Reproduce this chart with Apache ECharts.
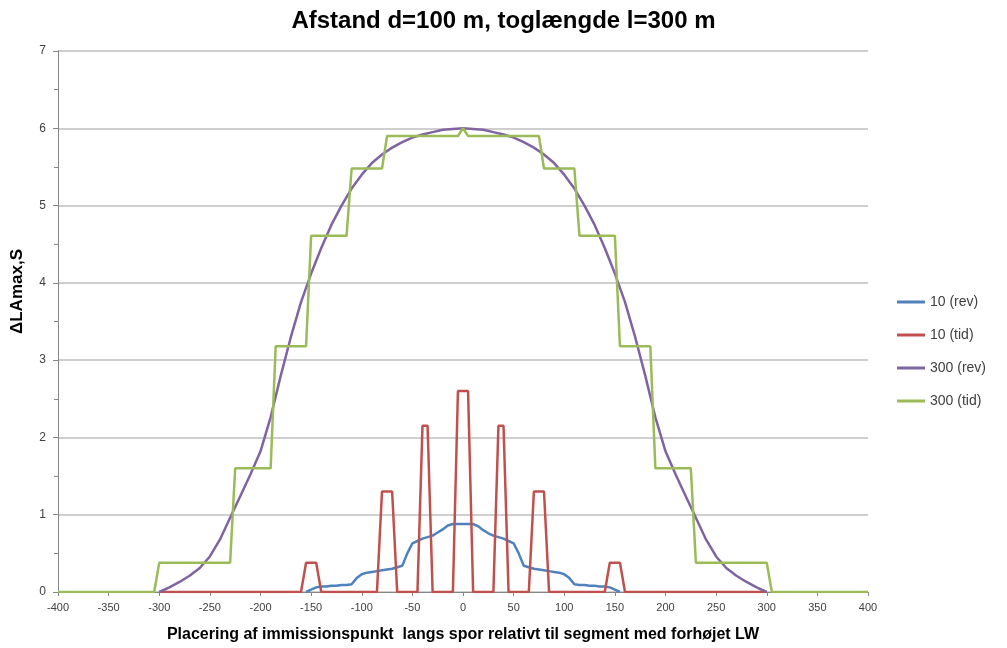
<!DOCTYPE html>
<html>
<head>
<meta charset="utf-8">
<script src="https://cdn.jsdelivr.net/npm/echarts@6/dist/echarts.min.js"></script>
<style>
  html, body { margin: 0; padding: 0; background: #fff; }
  #chart { width: 1007px; height: 648px; }
</style>
</head>
<body>
<div id="chart"></div>
<script>
// x positions (m) and ΔLAmax,S values
const revShortX = [-155, -150, -145, -140, -135, -130, -125, -120, -115, -110, -105, -100, -95, -90, -85, -80, -75, -70, -65, -60, -55, -50, -45, -40, -35, -30, -25, -20, -15, -10, -5, 0,
  5, 10, 15, 20, 25, 30, 35, 40, 45, 50, 55, 60, 65, 70, 75, 80, 85, 90, 95, 100, 105, 110, 115, 120, 125, 130, 135, 140, 145, 150, 155];
const revShortY = [0, 0.03, 0.06, 0.07, 0.07, 0.08, 0.08, 0.09, 0.09, 0.1, 0.18, 0.23, 0.25, 0.26, 0.27, 0.28, 0.29, 0.3, 0.32, 0.34, 0.5, 0.63, 0.66, 0.69, 0.71, 0.73, 0.77, 0.81, 0.86, 0.88, 0.88, 0.88,
  0.88, 0.88, 0.85, 0.8, 0.76, 0.73, 0.71, 0.69, 0.66, 0.63, 0.5, 0.34, 0.32, 0.3, 0.29, 0.28, 0.27, 0.26, 0.25, 0.23, 0.18, 0.1, 0.09, 0.09, 0.08, 0.08, 0.07, 0.07, 0.06, 0.03, 0];

const tidShortX = [-300, -160, -155, -145, -140, -85, -80, -70, -65, -45, -40, -35, -30, -10, -5, 5, 10, 30, 35, 40, 45, 65, 70, 80, 85, 140, 145, 155, 160, 300];
const tidShortY = [0, 0, 0.38, 0.38, 0, 0, 1.3, 1.3, 0, 0, 2.15, 2.15, 0, 0, 2.6, 2.6, 0, 0, 2.15, 2.15, 0, 0, 1.3, 1.3, 0, 0, 0.38, 0.38, 0, 0];

const revLongX = [-300, -290, -280, -270, -260, -250, -240, -230, -220, -210, -200, -190, -180, -170, -160, -150, -140, -130, -120, -110, -100, -90, -80, -70, -60, -50, -40, -30, -20, -10, 0,
  10, 20, 30, 40, 50, 60, 70, 80, 90, 100, 110, 120, 130, 140, 150, 160, 170, 180, 190, 200, 210, 220, 230, 240, 250, 260, 270, 280, 290, 300];
const revLongY = [0, 0.06, 0.13, 0.21, 0.31, 0.46, 0.68, 0.96, 1.24, 1.52, 1.82, 2.26, 2.8, 3.3, 3.75, 4.12, 4.45, 4.75, 5.0, 5.22, 5.4, 5.55, 5.66, 5.75, 5.82, 5.88, 5.92, 5.95, 5.98, 5.99, 6.0,
  5.99, 5.98, 5.95, 5.92, 5.88, 5.82, 5.75, 5.66, 5.55, 5.4, 5.22, 5.0, 4.75, 4.45, 4.12, 3.75, 3.3, 2.8, 2.26, 1.82, 1.52, 1.24, 0.96, 0.68, 0.46, 0.31, 0.21, 0.13, 0.06, 0];

const tidLongX = [-400, -305, -300, -230, -225, -190, -185, -155, -150, -115, -110, -80, -75, -5, 0, 5, 75, 80, 110, 115, 150, 155, 185, 190, 225, 230, 300, 305, 400];
const tidLongY = [0, 0, 0.38, 0.38, 1.6, 1.6, 3.18, 3.18, 4.61, 4.61, 5.48, 5.48, 5.9, 5.9, 6, 5.9, 5.9, 5.48, 5.48, 4.61, 4.61, 3.18, 3.18, 1.6, 1.6, 0.38, 0.38, 0, 0];

const seriesNames = ['10 (rev)', '10 (tid)', '300 (rev)', '300 (tid)'];
const seriesColors = ['#4f81bd', '#c0504d', '#8064a2', '#9bbb59'];

function zip(xs, ys) {
  return xs.map((x, i) => [x, ys[i]]);
}

const allData = [
  zip(revShortX, revShortY),
  zip(tidShortX, tidShortY),
  zip(revLongX, revLongY),
  zip(tidLongX, tidLongY),
];

const font = "'Liberation Sans', Arial, sans-serif";
const narrow = "'Liberation Sans Narrow', 'Liberation Sans', Arial, sans-serif";

let chart = echarts.init(document.getElementById('chart'), null, { renderer: 'canvas' });
let option = {
  animation: false,
  backgroundColor: '#fff',
  title: {
    text: 'Afstand d=100 m, toglængde l=300 m',
    left: 'center',
    top: 4,
    textStyle: { fontFamily: font, fontSize: 24, fontWeight: 'bold', color: '#000' },
  },
  legend: {
    orient: 'vertical',
    left: 892,
    top: 290,
    itemWidth: 28,
    itemHeight: 3,
    itemGap: 19,
    icon: 'rect',
    textStyle: { fontFamily: font, fontSize: 14, color: '#404040' },
    data: seriesNames,
  },
  grid: {
    left: 58,
    right: 139,
    top: 51,
    bottom: 56,
  },
  xAxis: {
    type: 'value',
    min: -400,
    max: 400,
    interval: 50,
    name: 'Placering af immissionspunkt  langs spor relativt til segment med forhøjet LW',
    nameLocation: 'middle',
    nameGap: 35,
    nameTextStyle: { fontFamily: font, fontSize: 16, fontWeight: 'bold', color: '#000' },
    axisLine: { show: true, lineStyle: { color: '#868686', width: 1 } },
    axisTick: { show: true, length: 4, lineStyle: { color: '#868686' } },
    axisLabel: { fontFamily: narrow, fontSize: 11, color: '#404040', margin: 10 },
    splitLine: { show: false },
  },
  yAxis: {
    type: 'value',
    min: 0,
    max: 7,
    interval: 1,
    name: 'ΔLAmax,S',
    nameLocation: 'middle',
    nameRotate: 90,
    nameGap: 32,
    nameTextStyle: { fontFamily: font, fontSize: 17, fontWeight: 'bold', color: '#000', padding: [0, 0, 0, 60] },
    axisLine: { show: true, onZero: false, lineStyle: { color: '#868686', width: 1 } },
    axisTick: { show: true, length: 5, lineStyle: { color: '#868686' } },
    minorTick: { show: true, splitNumber: 2, length: 4, lineStyle: { color: '#868686' } },
    axisLabel: { fontFamily: font, fontSize: 12, color: '#404040', margin: 12 },
    splitLine: { show: true, lineStyle: { color: '#bfbfbf', width: 1.5 } },
  },
  series: seriesNames.map((name, i) => ({
    name: name,
    type: 'line',
    data: allData[i],
    showSymbol: false,
    symbol: 'none',
    color: seriesColors[i],
    lineStyle: { width: 2.5, color: seriesColors[i] },
    z: 2 + i,
  })),
};
chart.setOption(option);
</script>
</body>
</html>
